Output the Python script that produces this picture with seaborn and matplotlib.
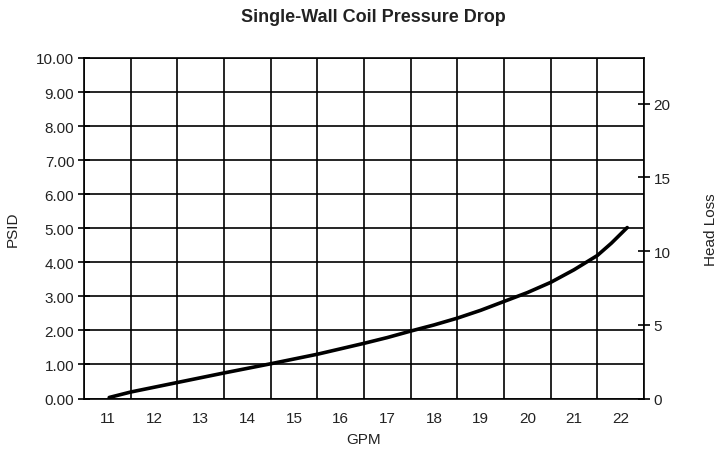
import matplotlib
matplotlib.use("Agg")
import matplotlib.pyplot as plt
import seaborn as sns
import pandas as pd
from matplotlib.ticker import MultipleLocator, FixedLocator, NullFormatter

# ----------------------------
# Data
# ----------------------------
GPM = [11.04, 11.5, 12.5, 13.5, 14.5, 15.0, 15.5, 16.0, 16.5, 17.0, 17.5, 18.0, 18.5,
       19.0, 19.5, 20.0, 20.5, 21.0, 21.5, 21.8, 22.14]
PSID = [0.03, 0.19, 0.47, 0.75, 1.02, 1.16, 1.30, 1.46, 1.62, 1.79, 1.98, 2.16, 2.36,
        2.59, 2.85, 3.11, 3.41, 3.78, 4.20, 4.56, 5.02]
X_LABELS = [11, 12, 13, 14, 15, 16, 17, 18, 19, 20, 21, 22]
HEAD_TICKS = [0, 5, 10, 15, 20]
FT_PER_PSI = 2.31

sns.set_style("white")
plt.rcParams['font.family'] = ['Liberation Sans', 'DejaVu Sans']
TXT = "#222222"

df = pd.DataFrame({"gpm": GPM, "psid": PSID})

fig = plt.figure(figsize=(7.26, 4.56), dpi=100)
ax = fig.add_axes([84 / 726, 1 - 399.5 / 456, 560 / 726, 340.5 / 456])

sns.lineplot(data=df, x="gpm", y="psid", ax=ax, color="black", linewidth=2.6,
             solid_joinstyle='round', solid_capstyle='round')

ax.set_xlim(10.5, 22.5)
ax.set_ylim(0, 10)

# grid on half-integer GPM lines, integer PSID lines
ax.xaxis.set_major_locator(MultipleLocator(1.0, offset=0.5))
ax.xaxis.set_major_formatter(NullFormatter())
ax.xaxis.set_minor_locator(FixedLocator(X_LABELS))
ax.set_xticklabels([str(v) for v in X_LABELS], minor=True)
ax.tick_params(axis='x', which='major', direction='inout', length=8, width=1.2, color='black')
ax.tick_params(axis='x', which='minor', length=0, labelsize=11, labelcolor=TXT, pad=9)

ax.yaxis.set_major_locator(MultipleLocator(1.0))
ax.set_yticklabels([f"{v:.2f}" for v in ax.get_yticks()])
ax.tick_params(axis='y', which='major', direction='inout', length=8, width=1.2,
               color='black', labelsize=11, labelcolor=TXT, pad=3)

ax.grid(True, which='major', color='black', linewidth=1.2)
for s in ax.spines.values():
    s.set_color('black')
    s.set_linewidth(1.2)

ax.set_xlabel("GPM", fontsize=11, color=TXT, labelpad=5)
ax.set_ylabel("PSID", fontsize=11, color=TXT, labelpad=12)

# secondary axis: head loss in feet
ax2 = ax.twinx()
ax2.set_ylim(0, 10 * FT_PER_PSI)
ax2.set_yticks(HEAD_TICKS)
ax2.tick_params(axis='y', direction='inout', length=8, width=1.2, color='black',
                labelsize=11, labelcolor=TXT, pad=3)
for s in ax2.spines.values():
    s.set_visible(False)
ax2.set_ylabel("Head Loss", fontsize=11, color=TXT, labelpad=24)

fig.text(373 / 726, 1 - 18 / 456, "Single-Wall Coil Pressure Drop",
         ha='center', va='center', fontsize=13, fontweight='bold', color=TXT)

fig.savefig("out.png", dpi=100)
